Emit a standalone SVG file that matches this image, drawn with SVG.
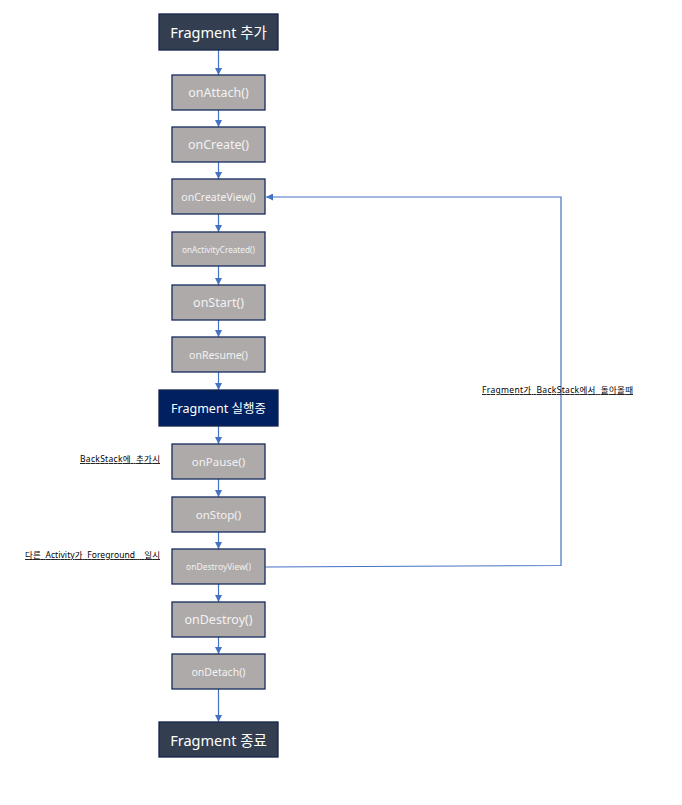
<svg xmlns="http://www.w3.org/2000/svg" width="682" height="805" viewBox="0 0 682 805">
<style>
.term{fill:#333F50;stroke:#15234A;stroke-width:1.3}
.run{fill:#002060;stroke:#15234A;stroke-width:1.3}
.step{fill:#AEAAAA;stroke:#142B5C;stroke-width:1.3}
.t{font-family:"Noto Sans","Noto Sans CJK KR",sans-serif;fill:#F2F2F2;text-anchor:middle;dominant-baseline:central}
.tw{fill:#FFFFFF}
.lbl{font-family:"Noto Sans","Noto Sans CJK KR",sans-serif;font-size:8.5px;fill:#000;text-decoration:underline;white-space:pre}
.c{stroke:#4472C4;stroke-width:1.2;fill:none}
</style>
<defs>
<marker id="ah" viewBox="0 0 10 10" refX="10" refY="5" markerWidth="7" markerHeight="7" markerUnits="userSpaceOnUse" orient="auto">
<path d="M0,0 L10,5 L0,10 z" fill="#4472C4"/>
</marker>
</defs>
<rect width="682" height="805" fill="#FFFFFF"/>
<g id="connectors">
<line class="c" x1="218.5" y1="50" x2="218.5" y2="75" marker-end="url(#ah)"/>
<line class="c" x1="218.5" y1="110" x2="218.5" y2="127" marker-end="url(#ah)"/>
<line class="c" x1="218.5" y1="162" x2="218.5" y2="179" marker-end="url(#ah)"/>
<line class="c" x1="218.5" y1="214" x2="218.5" y2="232" marker-end="url(#ah)"/>
<line class="c" x1="218.5" y1="266" x2="218.5" y2="285" marker-end="url(#ah)"/>
<line class="c" x1="218.5" y1="320" x2="218.5" y2="337" marker-end="url(#ah)"/>
<line class="c" x1="218.5" y1="372" x2="218.5" y2="390" marker-end="url(#ah)"/>
<line class="c" x1="218.5" y1="426" x2="218.5" y2="444" marker-end="url(#ah)"/>
<line class="c" x1="218.5" y1="479" x2="218.5" y2="497" marker-end="url(#ah)"/>
<line class="c" x1="218.5" y1="532" x2="218.5" y2="549" marker-end="url(#ah)"/>
<line class="c" x1="218.5" y1="584" x2="218.5" y2="602" marker-end="url(#ah)"/>
<line class="c" x1="218.5" y1="637" x2="218.5" y2="654" marker-end="url(#ah)"/>
<line class="c" x1="218.5" y1="689" x2="218.5" y2="722" marker-end="url(#ah)"/>
<polyline class="c" points="265.5,567 561,565.5 561,197 266,197" marker-end="url(#ah)"/>
</g>
<g id="n-add"><rect class="term" x="159" y="14" width="119" height="36"/><text class="t tw" x="218.5" y="32" font-size="14.5">Fragment 추가</text></g>
<g id="n-attach"><rect class="step" x="172" y="75" width="93" height="35"/><text class="t" x="218.5" y="92.5" font-size="12.5">onAttach()</text></g>
<g id="n-create"><rect class="step" x="172" y="127" width="93" height="35"/><text class="t" x="218.5" y="144.5" font-size="12.5">onCreate()</text></g>
<g id="n-createview"><rect class="step" x="172" y="179" width="93" height="35"/><text class="t" x="218.5" y="196.5" font-size="10.5">onCreateView()</text></g>
<g id="n-activitycreated"><rect class="step" x="172" y="232" width="93" height="34"/><text class="t" x="218.5" y="249" font-size="8.2">onActivityCreated()</text></g>
<g id="n-start"><rect class="step" x="172" y="285" width="93" height="35"/><text class="t" x="218.5" y="302.5" font-size="12.5">onStart()</text></g>
<g id="n-resume"><rect class="step" x="172" y="337" width="93" height="35"/><text class="t" x="218.5" y="354.5" font-size="10.5">onResume()</text></g>
<g id="n-running"><rect class="run" x="159" y="390" width="119" height="36"/><text class="t tw" x="218.5" y="408" font-size="12.5">Fragment 실행중</text></g>
<g id="n-pause"><rect class="step" x="172" y="444" width="93" height="35"/><text class="t" x="218.5" y="461.5" font-size="11.5">onPause()</text></g>
<g id="n-stop"><rect class="step" x="172" y="497" width="93" height="35"/><text class="t" x="218.5" y="514.5" font-size="11.5">onStop()</text></g>
<g id="n-destroyview"><rect class="step" x="172" y="549" width="93" height="35"/><text class="t" x="218.5" y="566.5" font-size="8.5">onDestroyView()</text></g>
<g id="n-destroy"><rect class="step" x="172" y="602" width="93" height="35"/><text class="t" x="218.5" y="619.5" font-size="12.5">onDestroy()</text></g>
<g id="n-detach"><rect class="step" x="172" y="654" width="93" height="35"/><text class="t" x="218.5" y="671.5" font-size="10.5">onDetach()</text></g>
<g id="n-end"><rect class="term" x="159" y="722" width="119" height="35"/><text class="t tw" x="218.5" y="739.5" font-size="14.5">Fragment 종료</text></g>
<g id="labels">
<text class="lbl" x="80" y="462" textLength="80" lengthAdjust="spacing">BackStack에  추가시</text>
<text class="lbl" x="25" y="558" textLength="135" lengthAdjust="spacing">다른  Activity가  Foreground    일시</text>
<text class="lbl" x="482" y="393" textLength="151" lengthAdjust="spacing">Fragment가  BackStack에서  돌아올때</text>
</g>
</svg>
